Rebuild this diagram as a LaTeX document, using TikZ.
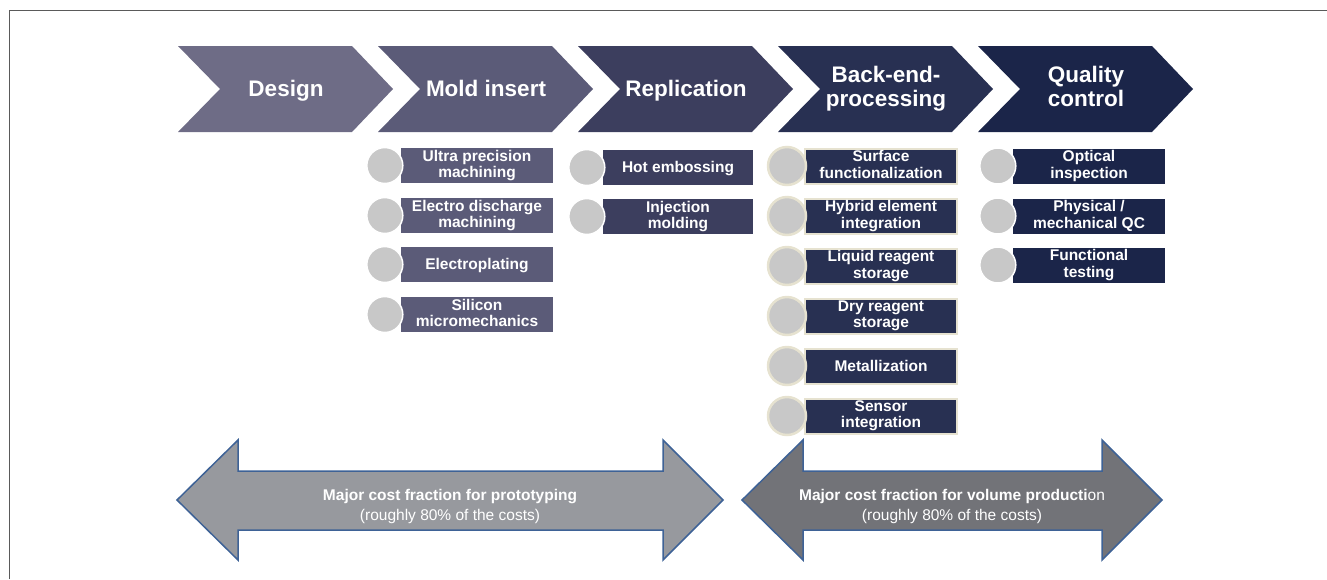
\documentclass[tikz,border=0pt]{standalone}
\usepackage{fontspec}
\setmainfont{Liberation Sans}
\usetikzlibrary{positioning}

\definecolor{cDesign}{HTML}{6E6C86}
\definecolor{cMold}{HTML}{5B5B78}
\definecolor{cRepl}{HTML}{3C3E5E}
\definecolor{cBack}{HTML}{283052}
\definecolor{cQual}{HTML}{1B2549}
\definecolor{dotgray}{HTML}{C8C8C8}
\definecolor{rimcream}{HTML}{E6E2D0}
\definecolor{arrowedge}{HTML}{3E6296}
\definecolor{protogray}{HTML}{97999E}
\definecolor{volgray}{HTML}{727378}
\definecolor{framegray}{HTML}{5A5A5A}

% balanced strut, keeps one- and two-line labels centred alike
\newcommand{\lblstrut}{\rule[-0.24em]{0pt}{1.14em}}

\begin{document}
\begin{tikzpicture}[x=1pt,y=-1pt,
                    struts/.style={execute at begin node=\lblstrut,execute at end node=\lblstrut},
                    phase/.style={text=white,align=center,struts,inner sep=0pt,
                      font=\fontsize{22.5}{23.5}\selectfont\bfseries},
                    item/.style={rectangle,fill=#1,text=white,align=center,struts,
                      minimum width=152pt,minimum height=35pt,inner sep=0pt,
                      font=\fontsize{15.5}{16.5}\selectfont\bfseries},
                    dot/.style={circle,fill=dotgray,draw=white,line width=1.5pt,
                      minimum size=36pt,inner sep=0pt},
                    rimmed/.style={draw=rimcream,line width=2pt},
                    costarrow/.style={draw=arrowedge,line width=1.5pt,line join=miter},
                    cost/.style={text=white,align=center,
                      font=\fontsize{15.5}{20}\selectfont}]
  \useasboundingbox (0,0) rectangle (1327,579);
  \draw[framegray,line width=1pt] (9,579) -- (9,10) -- (1327,10);

  % process chevrons
  \foreach \x/\c/\n/\t in {178/cDesign/design/Design,
                           378/cMold/mold/Mold insert,
                           578/cRepl/repl/Replication,
                           778/cBack/back/{Back-end-\\processing},
                           978/cQual/qual/{Quality\\control}} {
    \fill[\c] (\x,46) -- ++(174,0) -- ++(41,43) -- ++(-41,43) -- ++(-174,0)
              -- ++(42,-43) -- cycle;
    \node[phase] (\n) at (\x+108,89) {\t};
  }

  % mold insert
  \foreach \y/\n/\t in {165.5/upm/{Ultra precision\\machining},
                        215.5/edm/{Electro discharge\\machining},
                        264.5/epl/Electroplating,
                        314.5/sim/{Silicon\\micromechanics}} {
    \node[item=cMold] (\n) at (477,\y) {\t};
    \node[dot] (\n-dot) at ([xshift=-16pt]\n.west) {};
  }

  % replication
  \foreach \y/\n/\t in {167.5/hot/Hot embossing,
                        216.5/inj/{Injection\\molding}} {
    \node[item=cRepl,minimum width=150pt] (\n) at (678,\y) {\t};
    \node[dot] (\n-dot) at ([xshift=-16pt]\n.west) {};
  }

  % back-end processing
  \foreach \y/\n/\t in {166/sfn/{Surface\\functionalization},
                        216/hyb/{Hybrid element\\integration},
                        266/liq/{Liquid reagent\\storage},
                        316/dry/{Dry reagent\\storage},
                        366/met/Metallization,
                        416/sen/{Sensor\\integration}} {
    \node[item=cBack,rimmed] (\n) at (881,\y) {\t};
    \node[dot,draw=rimcream,line width=2.5pt,minimum size=38pt] (\n-dot)
      at ([xshift=-17pt]\n.west) {};
  }

  % quality control
  \foreach \y/\n/\t in {166/opt/{Optical\\inspection},
                        216/phy/{Physical /\\mechanical QC},
                        265/fun/{Functional\\testing}} {
    \node[item=cQual] (\n) at (1089,\y) {\t};
    \node[dot] (\n-dot) at ([xshift=-15pt]\n.west) {};
  }

  % cost arrows
  \draw[costarrow,fill=protogray] (177,500) -- (238,440) -- (238,471) -- (663,471)
    -- (663,440) -- (723,500) -- (663,560) -- (663,530) -- (238,530) -- (238,560) -- cycle;
  \draw[costarrow,fill=volgray] (742,500) -- (803,440) -- (803,471) -- (1102,471)
    -- (1102,440) -- (1162,500) -- (1102,560) -- (1102,530) -- (803,530) -- (803,560) -- cycle;
  \node[cost] (proto) at (450,506)
    {\textbf{Major cost fraction for prototyping}\\(roughly 80\% of the costs)};
  \node[cost] (volume) at (952,506)
    {\textbf{Major cost fraction for volume producti}on\\(roughly 80\% of the costs)};
\end{tikzpicture}
\end{document}
